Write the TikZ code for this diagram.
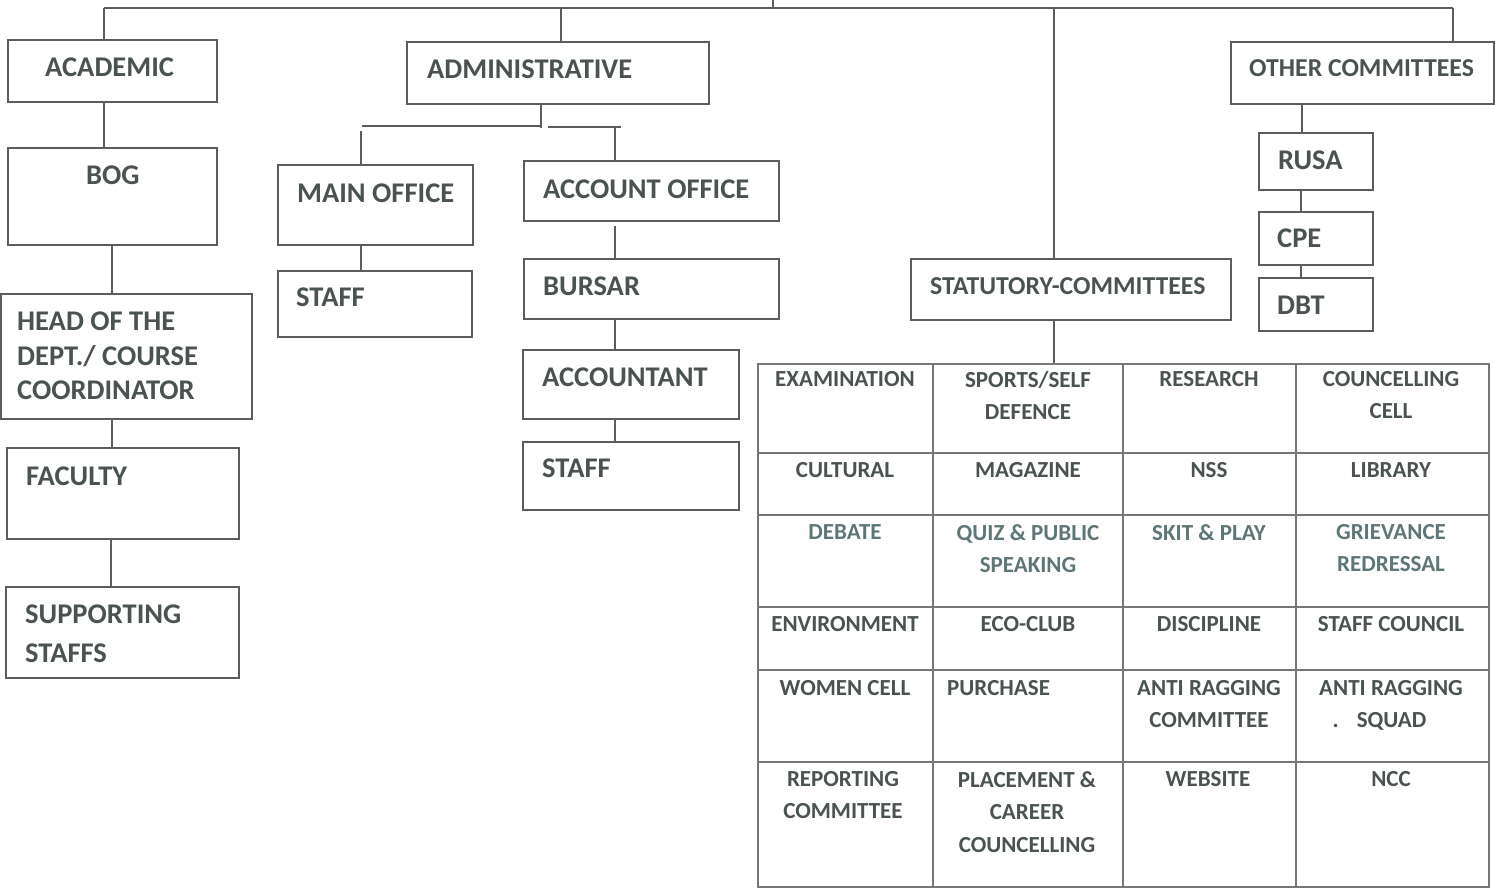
\documentclass[tikz,border=0pt]{standalone}
\usepackage{fontspec}
\setmainfont{Carlito}
\definecolor{ln}{HTML}{5C5C5C}
\definecolor{gl}{HTML}{777777}
\definecolor{tx}{HTML}{4A5252}
\definecolor{txg}{HTML}{5E7676}
\tikzset{
  box/.style={draw=ln, line width=2.2pt, inner sep=0pt, anchor=north west},
  conn/.style={draw=ln, line width=2pt},
  grid/.style={draw=gl, line width=1.4pt},
  lbl/.style={font=\bfseries\fontsize{28.5}{34.5}\selectfont, text=tx, inner sep=0pt, anchor=north west, align=left},
  lbls/.style={lbl, font=\bfseries\fontsize{25.8}{30}\selectfont},
  cell/.style={font=\bfseries\fontsize{23}{32.5}\selectfont, text=tx, inner sep=0pt, anchor=north, align=center},
  cellg/.style={cell, text=txg}
}
\begin{document}
\begin{tikzpicture}[x=1pt,y=-1pt]
\useasboundingbox (0,0) rectangle (1495,888);
% ---------- boxes ----------
\node[box, minimum width=209, minimum height=62] (academic) at (7,39) {};
\node[box, minimum width=302, minimum height=62] (admin) at (406,41) {};
\node[box, minimum width=263, minimum height=62] (other) at (1230,41) {};
\node[box, minimum width=209, minimum height=97] (bog) at (7,147) {};
\node[box, minimum width=251, minimum height=125] (head) at (0,293) {};
\node[box, minimum width=232, minimum height=91] (faculty) at (6,447) {};
\node[box, minimum width=233, minimum height=91] (support) at (5,586) {};
\node[box, minimum width=195, minimum height=80] (mainoff) at (277,164) {};
\node[box, minimum width=194, minimum height=66] (staffa) at (277,270) {};
\node[box, minimum width=255, minimum height=60] (accoff) at (523,160) {};
\node[box, minimum width=255, minimum height=60] (bursar) at (523,258) {};
\node[box, minimum width=216, minimum height=69] (accountant) at (522,349) {};
\node[box, minimum width=216, minimum height=68] (staffb) at (522,441) {};
\node[box, minimum width=320, minimum height=61] (stat) at (910,258) {};
\node[box, minimum width=114, minimum height=57] (rusa) at (1258,132) {};
\node[box, minimum width=114, minimum height=53] (cpe) at (1258,211) {};
\node[box, minimum width=114, minimum height=53] (dbt) at (1258,277) {};
\node[draw=gl, line width=1.6pt, inner sep=0pt, anchor=north west, minimum width=731, minimum height=523] (tbl) at (757,363) {};
% ---------- top bar ----------
\coordinate (topL) at (104,8);
\coordinate (topR) at (1453,8);
\coordinate (topC) at (773,0);
\draw[conn] (topL) -- (topR);
\draw[conn] (topC) -- (topC |- topL);
\draw[conn] (topL) -- (topL |- academic.north);
\draw[conn] (561,0 |- topL) -- (561,0 |- admin.north);
\draw[conn] (1054,0 |- topL) -- (1054,0 |- stat.north);
\draw[conn] (topR) -- (topR |- other.north);
% ---------- academic column ----------
\draw[conn] (104,0 |- academic.south) -- (104,0 |- bog.north);
\draw[conn] (112,0 |- bog.south) -- (112,0 |- head.north);
\draw[conn] (112,0 |- head.south) -- (112,0 |- faculty.north);
\draw[conn] (111,0 |- faculty.south) -- (111,0 |- support.north);
% ---------- administrative ----------
\coordinate (abr) at (541,126);
\draw[conn] (541,0 |- admin.south) -- (541,128);
\draw[conn] (abr) -- (362,126);
\coordinate (mtop) at (361,131);
\draw[conn] (mtop) -- (mtop |- mainoff.north);
\draw[conn] (361,0 |- mainoff.south) -- (361,0 |- staffa.north);
\coordinate (abr2) at (548,127);
\draw[conn] (abr2) -- (621,127);
\coordinate (atop) at (615,127);
\draw[conn] (atop) -- (atop |- accoff.north);
\coordinate (btop) at (615,226);
\draw[conn] (btop) -- (btop |- bursar.north);
\draw[conn] (615,0 |- bursar.south) -- (615,0 |- accountant.north);
\draw[conn] (615,0 |- accountant.south) -- (615,0 |- staffb.north);
% ---------- other committees ----------
\draw[conn] (1302,0 |- other.south) -- (1302,0 |- rusa.north);
\draw[conn] (1301,0 |- rusa.south) -- (1301,0 |- cpe.north);
\draw[conn] (1301,0 |- cpe.south) -- (1301,0 |- dbt.north);
% ---------- statutory ----------
\draw[conn] (1054,0 |- stat.south) -- (1054,0 |- tbl.north);
% ---------- table grid ----------
\foreach \gx in {933,1123,1296} \draw[grid] (\gx,0 |- tbl.north) -- (\gx,0 |- tbl.south);
\foreach \gy in {453,515,607,670,762} \draw[grid] (tbl.west |- 0,\gy) -- (tbl.east |- 0,\gy);
% ---------- labels ----------
\node[lbl] (lacademic) at (45,58) {ACADEMIC};
\node[lbl] (ladmin) at (427,60) {ADMINISTRATIVE};
\node[lbls] (lother) at (1249,59) {OTHER COMMITTEES};
\node[lbl] (lbog) at (86,166) {BOG};
\node[lbl] (lhead) at (17,312) {HEAD OF THE\\DEPT./ COURSE\\COORDINATOR};
\node[lbl] (lfaculty) at (26,467) {FACULTY};
\node[lbl, font=\bfseries\fontsize{28.5}{39}\selectfont] (lsupport) at (25,605) {SUPPORTING\\STAFFS};
\node[lbl] (lmainoff) at (297,184) {MAIN OFFICE};
\node[lbl] (lstaffa) at (296,288) {STAFF};
\node[lbl] (laccoff) at (543,180) {ACCOUNT OFFICE};
\node[lbl] (lbursar) at (543,277) {BURSAR};
\node[lbl] (laccountant) at (542,368) {ACCOUNTANT};
\node[lbl] (lstaffb) at (542,459) {STAFF};
\node[lbls] (lstat) at (930,277) {STATUTORY-COMMITTEES};
\node[lbl] (lrusa) at (1278,151) {RUSA};
\node[lbl] (lcpe) at (1277,229) {CPE};
\node[lbl] (ldbt) at (1277,296) {DBT};
% ---------- table cells ----------
\node[cell] (c11) at (845,371) {EXAMINATION};
\node[cell] (c12) at (1028,371) {SPORTS/SELF\\DEFENCE};
\node[cell] (c13) at (1209,371) {RESEARCH};
\node[cell] (c14) at (1391,371) {COUNCELLING\\CELL};
\node[cell] (c21) at (845,462) {CULTURAL};
\node[cell] (c22) at (1028,462) {MAGAZINE};
\node[cell] (c23) at (1209,462) {NSS};
\node[cell] (c24) at (1391,462) {LIBRARY};
\node[cellg] (c31) at (845,524) {DEBATE};
\node[cellg] (c32) at (1028,524) {QUIZ \& PUBLIC\\SPEAKING};
\node[cellg] (c33) at (1209,524) {SKIT \& PLAY};
\node[cellg] (c34) at (1391,524) {GRIEVANCE\\REDRESSAL};
\node[cell] (c41) at (845,616) {ENVIRONMENT};
\node[cell] (c42) at (1028,616) {ECO-CLUB};
\node[cell] (c43) at (1209,616) {DISCIPLINE};
\node[cell] (c44) at (1391,616) {STAFF COUNCIL};
\node[cell] (c51) at (845,680) {WOMEN CELL};
\node[cell, anchor=north west, align=left] (c52) at (947,680) {PURCHASE};
\node[cell] (c53) at (1209,680) {ANTI RAGGING\\COMMITTEE};
\node[cell] (c54) at (1391,680) {ANTI RAGGING\\.\hspace{18pt}SQUAD\kern23pt};
\node[cell] (c61) at (843,771) {REPORTING\\COMMITTEE};
\node[cell] (c62) at (1027,771) {PLACEMENT \&\\CAREER\\COUNCELLING};
\node[cell] (c63) at (1208,771) {WEBSITE};
\node[cell] (c64) at (1391,771) {NCC};
\end{tikzpicture}
\end{document}
